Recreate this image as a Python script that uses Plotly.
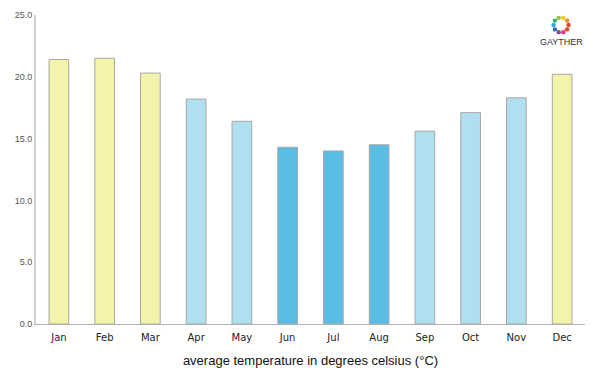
import plotly.graph_objects as go
import math

months = ["Jan", "Feb", "Mar", "Apr", "May", "Jun", "Jul", "Aug", "Sep", "Oct", "Nov", "Dec"]
temps = [21.4, 21.5, 20.3, 18.2, 16.4, 14.3, 14.0, 14.5, 15.6, 17.1, 18.3, 20.2]
colors = ["#F3F4AA", "#F3F4AA", "#F3F4AA", "#B0DFF0", "#B0DFF0", "#5ABDE6",
          "#5ABDE6", "#5ABDE6", "#B0DFF0", "#B0DFF0", "#B0DFF0", "#F3F4AA"]
y_ticks = [0, 5, 10, 15, 20, 25]

fig = go.Figure(go.Bar(
    x=months, y=temps,
    marker=dict(color=colors, line=dict(color="#A8A8A8", width=1)),
    width=0.43,
))

# logo ring (decoration)
logo_cols = ["#E8412B", "#F28C1E", "#F7C51E", "#8DC63F", "#2BB673", "#27AAE1",
             "#2B6CB3", "#8E4B9E", "#E6358B", "#E8412B"]
pw, ph = 549.0, 309.0
cx, cy, rp = (561 - 36) / pw, (324 - 25) / ph, 7.5
shapes = []
for i, c in enumerate(logo_cols):
    a = 2 * math.pi * i / len(logo_cols)
    x = cx + rp * math.cos(a) / pw
    y = cy + rp * math.sin(a) / ph
    shapes.append(dict(type="circle", xref="paper", yref="paper",
                       x0=x - 2.2 / pw, x1=x + 2.2 / pw, y0=y - 2.2 / ph, y1=y + 2.2 / ph,
                       fillcolor=c, line=dict(width=0)))

fig.update_layout(
    width=592, height=367,
    margin=dict(l=28, r=15, t=7, b=51),
    plot_bgcolor="white", paper_bgcolor="white",
    showlegend=False,
    shapes=shapes,
    xaxis=dict(
        automargin=False,
        showline=True, linecolor="#B0B0B0", linewidth=1,
        ticks="", showgrid=False, ticklabelstandoff=4,
        tickfont=dict(family="DejaVu Sans", size=10, color="#222222"),
        title=dict(text="average temperature in degrees celsius (°C)",
                   font=dict(family="Liberation Sans", size=13, color="#111111"),
                   standoff=13),
    ),
    yaxis=dict(
        automargin=False,
        range=[0, 25], tickvals=y_ticks, tickformat=".1f",
        showline=True, linecolor="#D0D0D0", linewidth=2,
        showgrid=False, zeroline=False, ticks="",
        tickfont=dict(family="Liberation Sans", size=9, color="#555555"),
    ),
    annotations=[dict(text="GAYTHER", xref="paper", yref="paper", x=cx, y=(324 - 42) / ph,
                      xanchor="center", yanchor="middle",
                      showarrow=False, font=dict(family="Liberation Sans", size=9, color="#333333"))],
    bargap=0.57,
)

fig.write_html("out.html")
